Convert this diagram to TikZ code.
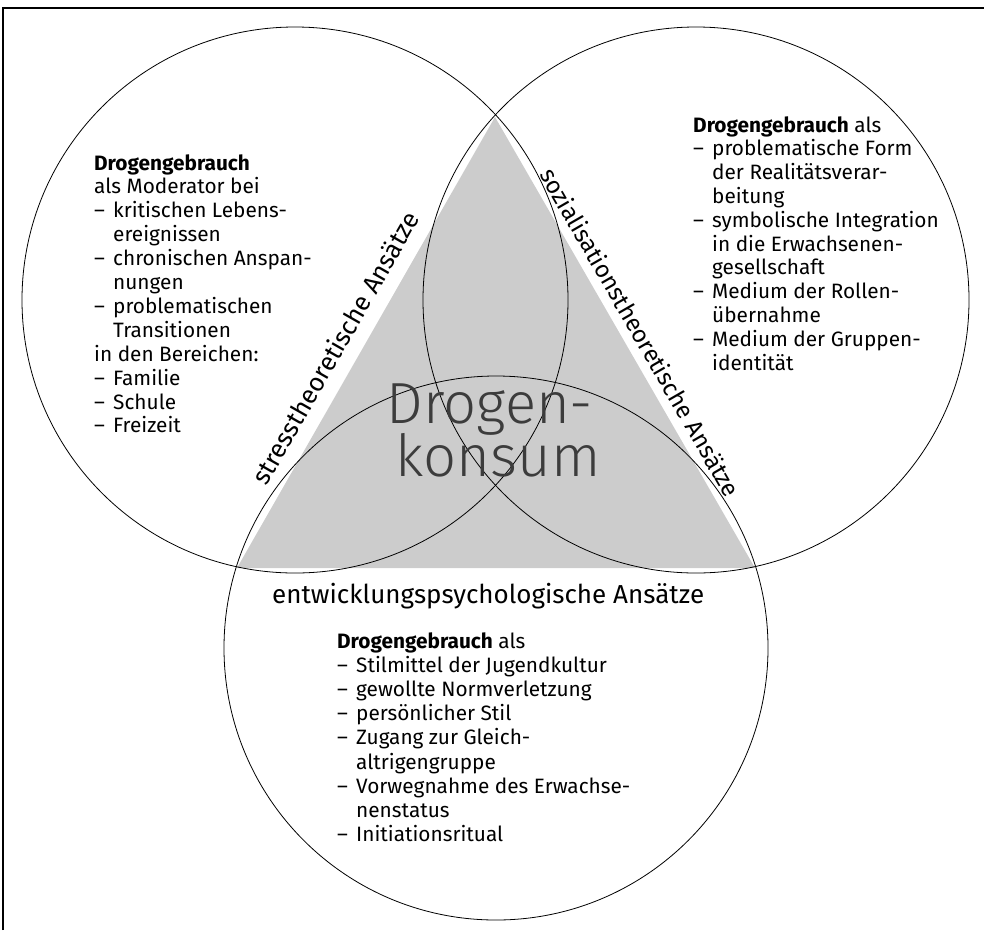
\documentclass[tikz,border=0pt]{standalone}
\usepackage{fontspec}
\setmainfont{Fira Sans}
\newfontfamily\bigfont{Fira Sans Light}
\definecolor{trifill}{RGB}{204,204,204}
\definecolor{bigtext}{RGB}{60,60,60}
\newcommand\itm{\makebox[19pt][l]{–}}
\newcommand\cnt{\hspace*{19pt}}
\begin{document}
\begin{tikzpicture}[x=1pt,y=-1pt,
  circ/.style={draw=black, line width=0.8pt},
  body/.style={anchor=base west, inner sep=0pt, font=\fontsize{20.8}{24}\selectfont, text=black},
  head/.style={inner sep=0pt, font=\fontsize{26}{30}\selectfont, text=black},
  slab/.style={inner sep=0pt, text=black},
  big/.style={anchor=base, inner sep=0pt, font=\bigfont\fontsize{58}{60}\selectfont, text=bigtext},
  frame/.style={draw=black, line width=1.5pt}
]
\useasboundingbox (0,0) rectangle (984,930);
% frame
\coordinate (f1) at (3,930);
\coordinate (f2) at (3,8);
\coordinate (f3) at (984,8);
\draw[frame] (f1) -- (f2) -- (f3);
% triangle
\coordinate (T) at (495,117);
\coordinate (BL) at (237,568);
\coordinate (BR) at (755,568);
\fill[trifill] (T) -- (BL) -- (BR) -- cycle;
% circles
\coordinate (cl) at (295,300);
\coordinate (cr) at (696,300);
\coordinate (cb) at (496,648);
\draw[circ] (cl) circle[radius=273];
\draw[circ] (cr) circle[radius=273];
\draw[circ] (cb) circle[radius=272];
% big text
\node[big] (d1) at (490,423) {Drogen-};
\node[big] (d2) at (498,476) {konsum};
% labels along triangle
\path (BL) -- (T) node[slab, font=\fontsize{25.5}{30}\selectfont, pos=0.462, sloped, anchor=south, yshift=14pt] (lab1) {stresstheoretische Ansätze};
\path (T) -- (BR) node[slab, font=\fontsize{24}{30}\selectfont, pos=0.498, sloped, anchor=south, yshift=9pt] (lab2) {sozialisationstheoretische Ansätze};
\node[head, anchor=base west] (lab3) at (272,603) {entwicklungspsychologische Ansätze};
% left text
\foreach \t [count=\i] in {{\textbf{Drogengebrauch}},{als Moderator bei},{\itm kritischen Lebens-},{\cnt ereignissen},{\itm chronischen Anspan-},{\cnt nungen},{\itm problematischen},{\cnt Transitionen},{in den Bereichen:},{\itm Familie},{\itm Schule},{\itm Freizeit}}
  \node[body] (ltx\i) at (94,{170+23.9*(\i-1)}) {\t};
% right text
\foreach \t [count=\i] in {{\textbf{Drogengebrauch} als},{\itm problematische Form},{\cnt der Realitätsverar-},{\cnt beitung},{\itm symbolische Integration},{\cnt in die Erwachsenen-},{\cnt gesellschaft},{\itm Medium der Rollen-},{\cnt übernahme},{\itm Medium der Gruppen-},{\cnt identität}}
  \node[body] (rtx\i) at (693,{132+23.8*(\i-1)}) {\t};
% bottom text
\foreach \t [count=\i] in {{\textbf{Drogengebrauch} als},{\itm Stilmittel der Jugendkultur},{\itm gewollte Normverletzung},{\itm persönlicher Stil},{\itm Zugang zur Gleich-},{\cnt altrigengruppe},{\itm Vorwegnahme des Erwachse-},{\cnt nenstatus},{\itm Initiationsritual}}
  \node[body] (btx\i) at (337,{648+24.2*(\i-1)}) {\t};
\end{tikzpicture}
\end{document}
